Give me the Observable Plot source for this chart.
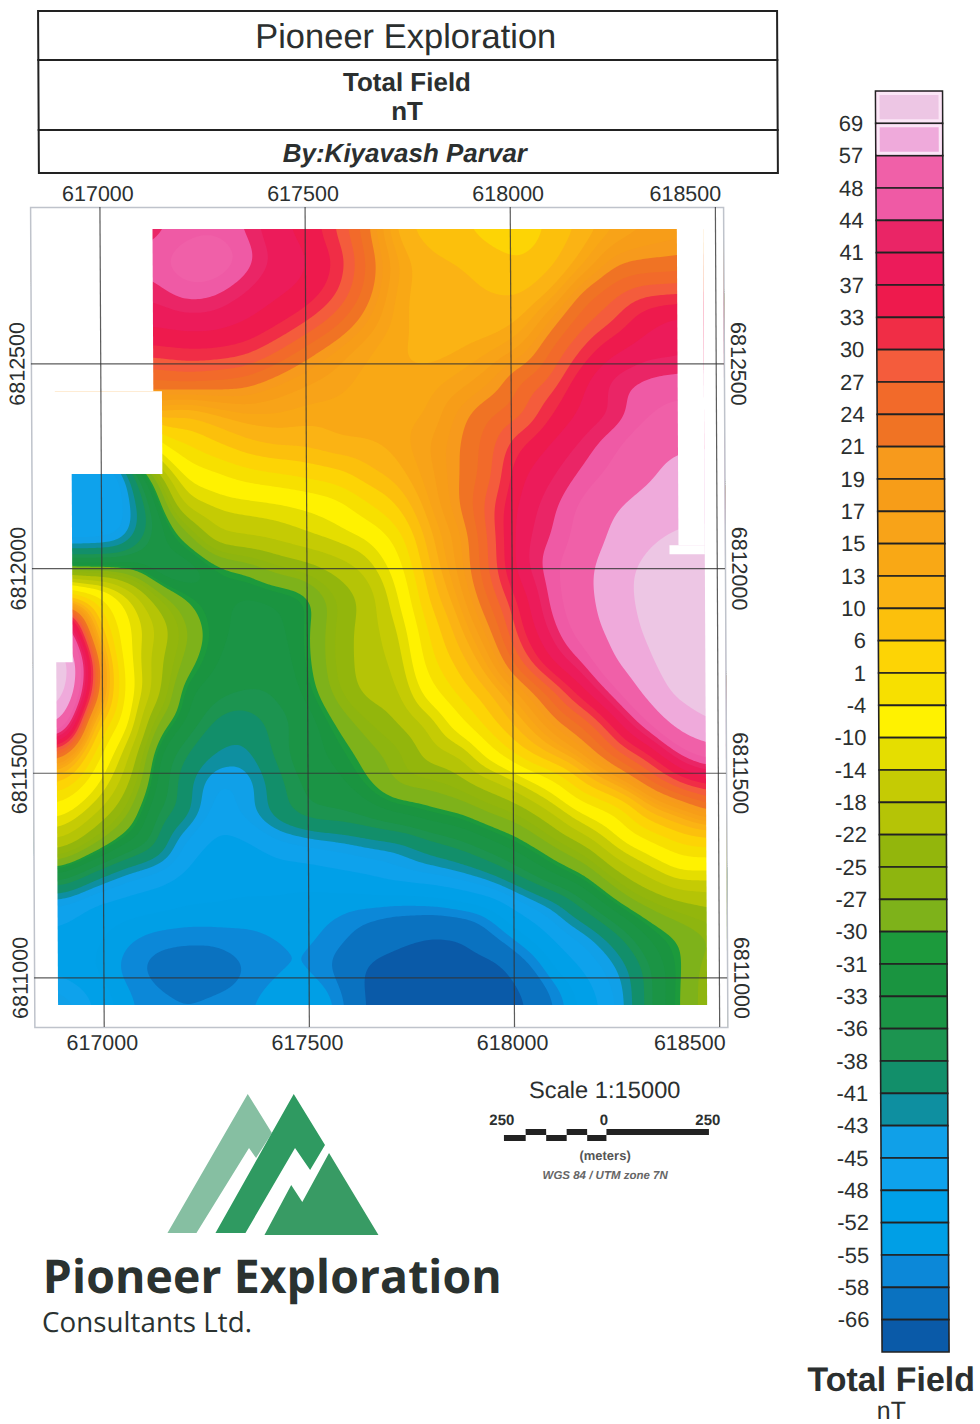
<!DOCTYPE html>
<html><head><meta charset="utf-8">
<script src="https://cdn.jsdelivr.net/npm/d3@7"></script>
<script src="https://cdn.jsdelivr.net/npm/@observablehq/plot@0.6"></script>
<style>
html,body{margin:0;padding:0;background:#fff;overflow:hidden}
#page{position:relative;width:980px;height:1424px;transform:skewX(0.3deg);transform-origin:0 0;font-family:"Liberation Sans",Arial,sans-serif;color:#2b2f2f}
.t{position:absolute;white-space:nowrap;text-align:center;line-height:1}
.box{position:absolute;border:2.5px solid #222;box-sizing:border-box;left:36.5px;width:741px}
svg{position:absolute;overflow:visible;background:transparent}
svg text{-webkit-text-stroke:0.35px}
</style></head><body><div id="page">
<div class="box" style="top:10px;height:51px"></div>
<div class="box" style="top:59px;height:72px"></div>
<div class="box" style="top:129px;height:45px"></div>
<div class="t" style="left:35px;width:741px;top:19px;font-size:34.5px">Pioneer Exploration</div>
<div class="t" style="left:36px;width:741px;top:69px;font-size:26px;font-weight:700">Total Field</div>
<div class="t" style="left:36px;width:741px;top:98px;font-size:26px;font-weight:700">nT</div>
<div class="t" style="left:36px;width:736px;top:140px;font-size:26px;font-weight:700;font-style:italic">By:Kiyavash Parvar</div>

<div class="t" style="left:499px;width:200px;top:1079px;font-size:23.7px">Scale 1:15000</div>
<div class="t" style="left:469px;width:54px;top:1112px;font-size:15px;font-weight:700">250</div>
<div class="t" style="left:573px;width:50px;top:1112px;font-size:15px;font-weight:700">0</div>
<div class="t" style="left:675px;width:54px;top:1112px;font-size:15px;font-weight:700">250</div>
<div class="t" style="left:499px;width:200px;top:1149px;font-size:13px;font-weight:700;color:#555">(meters)</div>
<div class="t" style="left:499px;width:200px;top:1170px;font-size:11.5px;font-weight:700;font-style:italic;color:#666">WGS 84 / UTM zone 7N</div>

<svg style="left:0;top:0" width="980" height="1424" viewBox="0 0 980 1424">
<polygon fill="#86bfa2" points="161,1233 242,1094 266,1133 250,1158 243,1148 190,1233"/>
<polygon fill="#2f9a61" points="209,1233 288,1094 319,1145 304,1170 289,1148 239,1233"/>
<polygon fill="#389b64" points="258,1235 285,1185 296,1202 323,1153 372,1235"/>
</svg>
<div class="t" style="left:36px;top:1252px;font-family:'Open Sans';font-weight:700;font-size:46.5px;color:#2a3230;text-align:left">Pioneer Exploration</div>
<div class="t" style="left:35px;top:1308px;font-family:'Open Sans';font-size:27.8px;color:#2a3230;text-align:left">Consultants Ltd.</div>
<div class="t" style="left:792px;width:184px;top:1362px;font-size:34px;font-weight:700">Total Field</div>
<div class="t" style="left:792px;width:184px;top:1398px;font-size:25px">nT</div>
</div>
<script>
// Legend classes, top box to bottom box
const legendLabels = [69,57,48,44,41,37,33,30,27,24,21,19,17,15,13,10,6,1,-4,-10,-14,-18,-22,-25,-27,-30,-31,-33,-36,-38,-41,-43,-45,-48,-52,-55,-58,-66];
const legendColors = ["#edc6e4","#efaadb","#f060a8","#ef5aa5","#ea2566","#ec1b5a","#ee1a4d","#f02d46","#f45c3c","#f26a2a","#f07324","#f79a1c","#f79d18","#f8a318","#f9a815","#fbb314","#fcc00c","#fdd405","#f7e000","#fff200","#e5de00","#c5cb04","#b5c406","#93b60c","#8eb50f","#7eb21a","#1c9a3c","#1a9440","#1b9445","#1c9450","#128f6a","#0e8fa0","#10a0e8","#0ea2ec","#00a0e8","#009fe6","#0c88d8","#0a72c0","#0a5aa8"];

// Map grid (nT)
const eastings = [616900,616975,617050,617125,617200,617275,617350,617425,617500,617575,617650,617725,617800,617875,617950,618025,618100,618175,618250,618325,618400,618475];
const northings = [6812825,6812750,6812675,6812600,6812525,6812450,6812375,6812300,6812225,6812150,6812075,6812000,6811925,6811850,6811775,6811700,6811625,6811550,6811475,6811400,6811325,6811250,6811175,6811100,6811025,6810950];
const fieldRows = [
[42,42,42,42,46,47,44,38,36,30,22,12,8,7,4,3,7,11,15,17,18,18],
[46,46,46,46,52,54,47,40,38,33,24,15,11,10,8,6,9,14,20,21,21.5,22],
[42,42,42,42,46,45,41,38,36,31,23,14,11,11,10,9,13,22,26,29,29,30],
[38,38,38,38,39,39,37,34,30,25,19,14,11,11,11,13,20,26,30,36,39,40],
[31,31,31,31,32,32,31,27,22,18,15,13,12,13,15,18,25,31,37,40,40,41],
[23,23,23,23,24,23,22,19,17,16,14,13,14,16,19,25,28,37,43,45,46,47],
[13,13,13,13,10,13,15,15,14,14,14,14,15,20,24,26,33,38,41,47,50,50],
[-47,-47,-40,-9,0,5,9,11,11,13,13,14,17,21,26,33,38,42,47,53,56,57],
[-48,-48,-47,-30,-9,-6,-2,0,2,4,9,12,16,21,26,37,41,45,50,55,60,61],
[-48,-48,-47,-36,-17,-14,-13,-12,-10,-7,0,6,15,21,29,39,43,50,56,61,65,66],
[-47,-47,-46,-35,-30,-19,-18,-17,-15,-13,-10,-2,13,18,28,40,44,51,59,67,71,72],
[-31,-31,-31,-36,-36,-32,-30,-26,-24,-21,-17,-7,11,18,28,40,47,54,64,72,75,75],
[12,2,-10,-23,-30,-32,-34,-33,-32,-25,-21,-11,8,16,25,35,46,54,63,73,77,77],
[60,15,-7,-17,-26,-32,-34,-34,-31,-24,-20,-15,3,13,21,33,43,52,61,71,77,77],
[85,30,-6,-20,-28,-33,-35,-35,-31,-24,-20,-17,0,9,17,28,38,45,57,67,77,77],
[80,28,-4,-19,-33,-35,-36,-36,-32,-25,-20,-19,-6,4,11,18,26,36,47,60,73,76],
[60,10,-6,-27,-33,-39,-40,-37,-35,-29,-25,-22,-17,-5,6,13,20,25,35,47,62,70],
[25,0,-15,-32,-38,-41,-42,-37,-34,-32,-28,-26,-20,-18,-6,6,13,19,26,32,44,52],
[5,-8,-20,-33,-40,-46,-45,-39,-35,-34,-30,-26,-26,-24,-20,-14,-6,7,15,23,29,33],
[-9,-18,-26,-36,-39,-47,-44,-39,-36,-36,-35,-33,-31,-30,-27,-25,-19,-10,-5,9,14,20],
[-20,-27,-33,-37,-46,-49,-49,-46,-45,-44,-42.5,-42,-39,-37,-34,-31,-27,-23,-13,-7,0,2],
[-34,-40,-44,-46,-49,-50,-50,-50,-50,-49,-48,-46,-45,-43.5,-41,-37,-33,-30,-24,-18,-12,-13],
[-46,-49,-50,-51,-52,-52,-53,-53,-54,-54,-54.5,-55.5,-55,-53,-51,-46,-42.5,-37,-31.5,-27,-24,-22],
[-49,-51,-54,-56,-56.5,-56.5,-56,-55,-54,-56,-61,-64,-67,-66,-58,-52,-47,-44,-39,-33,-30,-27],
[-50,-52,-56,-60,-62,-62,-58,-55.5,-55,-60,-68,-70,-71,-71,-70,-60,-51,-47,-43.5,-37,-30.5,-25],
[-43,-48,-54,-57,-58,-57,-55.5,-53,-52,-55,-69,-71,-72,-72,-70,-67,-57,-50,-45,-37,-30,-25]
];

// White no-data blocks around and inside the survey outline
const maskWest  = [616831,616831,616831,618407,618385,616831,618471,616831,616831];
const maskEast  = [617129,617150,616929,618471,618471,616889,618520,618520,618520];
const maskNorth = [6812828,6812432,6812230,6812828,6812056,6812882,6812882,6812882,6810933];
const maskSouth = [6812432,6812230,6811770,6812056,6812034,6810879,6810879,6812828,6810879];

const xTicks = [617000,617500,618000,618500];
const yTicks = [6811000,6811500,6812000,6812500];

// Scale bar blocks, metres
const barStart = [-250,-197,-147,-97,-47,0];
const barEnd   = [-197,-147,-97,-47,0,250];
const barRow   = [0,1,0,1,0,1];

// The grid is repeated one step beyond its edges so the smoothing does not fade at the survey border
const padE = [eastings[0]-75,...eastings,eastings[eastings.length-1]+75];
const padN = [northings[0]+75,...northings,northings[northings.length-1]-75];
const clampIdx = (i,n)=>Math.max(0,Math.min(n-1,i));
const points = padN.flatMap((n,r)=>padE.map((e,c)=>({e,n,v:fieldRows[clampIdx(r-1,fieldRows.length)][clampIdx(c-1,eastings.length)]})));
const masks = maskWest.map((w,i)=>({w,e:maskEast[i],n:maskNorth[i],s:maskSouth[i]}));
const thresholds = [-300,...legendLabels.slice().reverse()];
const colorScale = {type:"threshold",domain:legendLabels.slice().reverse(),range:legendColors.slice().reverse()};
const fontStyle = {fontFamily:"'Liberation Sans',Arial,sans-serif",background:"transparent",overflow:"visible"};
const tickFont = {fontSize:21.5,tickSize:0};

const map = Plot.plot({
  width:760,height:885,marginLeft:29,marginRight:38,marginTop:32,marginBottom:33,
  style:{...fontStyle,color:"#2b2f2f"},
  x:{domain:[616831,618520]},
  y:{domain:[6810879,6812882]},
  color:colorScale,
  marks:[
    Plot.contour(points,{x:"e",y:"n",fill:"v",interpolate:"barycentric",thresholds,pixelSize:2,blur:5}),
    Plot.rect(masks,{x1:"w",x2:"e",y1:"s",y2:"n",fill:"white"}),
    Plot.frame({stroke:"#bfc3cb",strokeWidth:1.5}),
    Plot.ruleX(xTicks,{stroke:"#333",strokeOpacity:0.8,strokeWidth:1.2}),
    Plot.ruleY(yTicks,{stroke:"#333",strokeOpacity:0.8,strokeWidth:1.2}),
    Plot.axisX({anchor:"top",ticks:xTicks.slice(0,3),tickFormat:d=>String(d),tickPadding:7,dx:-2,...tickFont,label:null}),
    Plot.axisX({anchor:"top",ticks:xTicks.slice(3),tickFormat:d=>String(d),tickPadding:7,dx:-30,...tickFont,label:null}),
    Plot.axisX({anchor:"bottom",ticks:xTicks.slice(0,3),tickFormat:d=>String(d),tickPadding:7,dx:-2,...tickFont,label:null}),
    Plot.axisX({anchor:"bottom",ticks:xTicks.slice(3),tickFormat:d=>String(d),tickPadding:7,dx:-30,...tickFont,label:null}),
    Plot.axisY({anchor:"left",ticks:yTicks,tickFormat:d=>String(d),tickRotate:-90,tickPadding:7,...tickFont,label:null}),
    Plot.axisY({anchor:"right",ticks:yTicks,tickFormat:d=>String(d),tickRotate:90,tickPadding:22,...tickFont,label:null})
  ]
});
map.style.left="0px";map.style.top="175px";

const legendBoxes = legendColors.map((c,i)=>({i,c}));
const legend = Plot.plot({
  width:160,height:1290,marginLeft:55,marginRight:38,marginTop:11,marginBottom:18,
  style:{...fontStyle,color:"#2b2f2f"},
  x:{domain:[0,1],axis:null},
  y:{domain:[0,legendColors.length],reverse:true},
  marks:[
    Plot.rect(legendBoxes,{x1:0,x2:1,y1:"i",y2:d=>d.i+1,fill:"c",stroke:"#222",strokeWidth:1.6}),
    Plot.rect(legendBoxes.slice(0,2),{x1:0,x2:1,y1:"i",y2:d=>d.i+1,inset:2.5,fill:"none",stroke:"#fbe6f6",strokeWidth:3}),
    Plot.axisY({anchor:"left",ticks:legendLabels.map((_,i)=>i+1),tickFormat:d=>legendLabels[d-1],tickSize:0,tickPadding:13,fontSize:22,label:null})
  ]
});
legend.style.left="820px";legend.style.top="80px";

const bar = Plot.plot({
  width:230,height:16,marginLeft:0,marginRight:0,marginTop:2,marginBottom:2,
  style:{background:"transparent",overflow:"visible"},
  x:{domain:[-250,250],range:[7,212],axis:null},
  y:{domain:[0,2],reverse:true,axis:null},
  marks:[
    Plot.rect(barStart.map((s,i)=>({s,e:barEnd[i],r:barRow[i]})),{x1:"s",x2:"e",y1:d=>1-d.r,y2:d=>2-d.r,fill:"#222"})
  ]
});
bar.style.left="491px";bar.style.top="1127px";

const page=document.getElementById("page");
page.append(map,legend,bar);
</script>
</body></html>
